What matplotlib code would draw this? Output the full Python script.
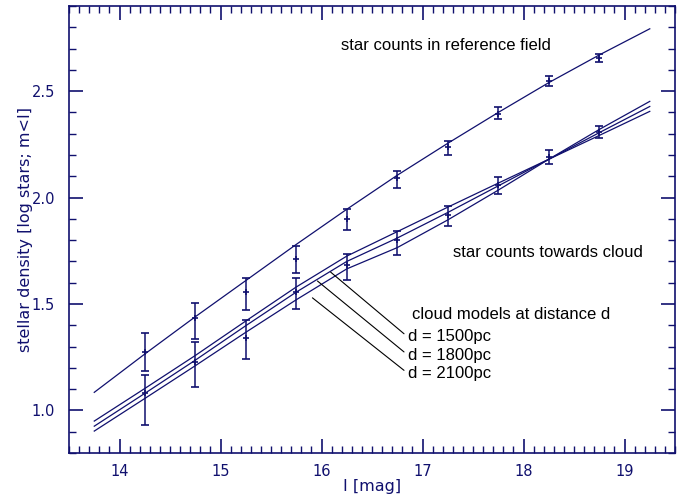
import matplotlib
matplotlib.use("Agg")
import matplotlib.pyplot as plt
from matplotlib.ticker import MultipleLocator, FormatStrFormatter

# observed star counts (bin centres in I mag)
mag_bins = [14.25, 14.75, 15.25, 15.75, 16.25, 16.75, 17.25, 17.75, 18.25, 18.75]

ref_val = [1.275, 1.432, 1.557, 1.713, 1.901, 2.092, 2.238, 2.394, 2.546, 2.657]
ref_hi = [1.364, 1.507, 1.623, 1.773, 1.948, 2.125, 2.266, 2.425, 2.570, 2.676]
ref_lo = [1.186, 1.335, 1.474, 1.648, 1.850, 2.047, 2.202, 2.371, 2.524, 2.635]

cloud_val = [1.080, 1.228, 1.341, 1.557, 1.682, 1.800, 1.917, 2.058, 2.191, 2.308]
cloud_hi = [1.166, 1.322, 1.424, 1.621, 1.737, 1.843, 1.961, 2.097, 2.222, 2.336]
cloud_lo = [0.930, 1.108, 1.240, 1.476, 1.612, 1.732, 1.865, 2.019, 2.156, 2.280]

# model curves
model_mag = [13.75, 14.25, 14.75, 15.25, 15.75, 16.25, 16.75, 17.25, 17.75, 18.25, 18.75, 19.25]
ref_model = [1.085, 1.265, 1.440, 1.610, 1.780, 1.945, 2.105, 2.255, 2.400, 2.540, 2.670, 2.793]
model_1500 = [0.950, 1.103, 1.258, 1.420, 1.580, 1.725, 1.840, 1.955, 2.068, 2.180, 2.292, 2.405]
model_1800 = [0.926, 1.080, 1.236, 1.398, 1.556, 1.700, 1.810, 1.930, 2.055, 2.180, 2.305, 2.428]
model_2100 = [0.903, 1.056, 1.210, 1.367, 1.520, 1.665, 1.765, 1.895, 2.035, 2.180, 2.320, 2.452]

model_labels = ["d = 1500pc", "d = 1800pc", "d = 2100pc"]
label_targets = [(16.09, 1.650), (15.96, 1.608), (15.91, 1.529)]
label_pos = [(16.855, 1.345), (16.855, 1.260), (16.855, 1.174)]

NAVY = "#10106e"
TEXT_FONT = ["Liberation Sans", "DejaVu Sans"]
TEXT_SIZE = 12

fig = plt.figure(figsize=(6.86, 5.01), dpi=100)
ax = fig.add_axes([0.1006, 0.0958, 0.8834, 0.8922])

for curve in (ref_model, model_1500, model_1800, model_2100):
    ax.plot(model_mag, curve, color=NAVY, lw=0.9)

for val, hi, lo in ((ref_val, ref_hi, ref_lo), (cloud_val, cloud_hi, cloud_lo)):
    yerr = [[v - l for v, l in zip(val, lo)], [h - v for v, h in zip(val, hi)]]
    ax.errorbar(mag_bins, val, yerr=yerr, fmt="+", color=NAVY, ms=4, mew=1.2,
                elinewidth=1.1, capsize=3, capthick=1.1)

ax.text(16.195, 2.715, "star counts in reference field", fontsize=TEXT_SIZE,
        family=TEXT_FONT, va="center", ha="left")
ax.text(17.30, 1.74, "star counts towards cloud", fontsize=TEXT_SIZE,
        family=TEXT_FONT, va="center", ha="left")
ax.text(16.897, 1.452, "cloud models at distance d", fontsize=TEXT_SIZE,
        family=TEXT_FONT, va="center", ha="left")
for lab, tgt, pos in zip(model_labels, label_targets, label_pos):
    ax.annotate(lab, xy=tgt, xytext=pos, fontsize=TEXT_SIZE, family=TEXT_FONT,
                va="center", ha="left",
                arrowprops=dict(arrowstyle="-", color="black", lw=0.8,
                                relpos=(0, 0.5), shrinkA=1, shrinkB=0))

ax.set_xlim(13.5, 19.5)
ax.set_ylim(0.8, 2.9)
ax.xaxis.set_major_locator(MultipleLocator(1))
ax.xaxis.set_minor_locator(MultipleLocator(0.1))
ax.yaxis.set_major_locator(MultipleLocator(0.5))
ax.yaxis.set_minor_locator(MultipleLocator(0.1))
ax.yaxis.set_major_formatter(FormatStrFormatter("%.1f"))
ax.tick_params(which="both", direction="in", top=True, right=True, color=NAVY,
               labelcolor=NAVY, labelsize=10.5)
ax.tick_params(which="major", length=10, width=1.2)
ax.tick_params(which="minor", length=5, width=1.0)
ax.tick_params(axis="x", pad=8)
ax.tick_params(axis="y", pad=10)
for side in ax.spines.values():
    side.set_color(NAVY)
    side.set_linewidth(1.2)

ax.set_xlabel("I [mag]", color=NAVY, fontsize=11.5, labelpad=0)
ax.set_ylabel("stellar density [log stars; m<I]", color=NAVY, fontsize=11.5, labelpad=-1)

fig.savefig("out.png", dpi=100)
